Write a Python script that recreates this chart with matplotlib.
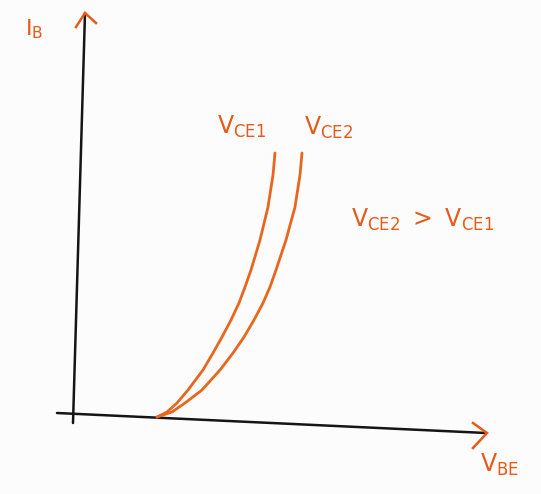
import matplotlib.pyplot as plt

# input characteristic sketch: I_B against V_BE for two collector voltages
ib = [-0.04, 0.01, 0.10, 0.23, 0.43, 0.60, 0.76, 0.93, 1.10, 1.26, 1.43, 1.73, 2.06, 2.38, 2.60]
vbe_vce1 = [0.84, 0.94, 1.04, 1.15, 1.30, 1.40, 1.49, 1.58, 1.66, 1.72, 1.78, 1.87, 1.95, 2.00, 2.02]
vbe_vce2 = [0.84, 0.99, 1.12, 1.29, 1.47, 1.60, 1.71, 1.81, 1.90, 1.97, 2.03, 2.13, 2.22, 2.27, 2.29]

# hand drawn axes (slightly skewed) and their chevron arrow heads
x_axis = ([-0.16, 4.13], [0.0, -0.20])
y_axis = ([0.0, 0.12], [-0.10, 4.00])
x_head = ([4.00, 4.14, 4.00], [-0.10, -0.20, -0.35])
y_head = ([0.03, 0.12, 0.23], [3.86, 4.00, 3.90])

orange = '#e65a1a'
ink = '#151515'

fig = plt.figure(figsize=(5.41, 4.94), dpi=100)
fig.patch.set_facecolor('#fdfcfc')
ax = fig.add_axes([0, 0, 1, 1])
ax.set_xlim(-0.73, 4.68)
ax.set_ylim(-0.81, 4.13)
ax.axis('off')

ax.plot(*x_axis, color=ink, lw=1.8, solid_capstyle='round')
ax.plot(*y_axis, color=ink, lw=1.8, solid_capstyle='round')
ax.plot(*x_head, color=orange, lw=1.8, solid_joinstyle='miter')
ax.plot(*y_head, color=orange, lw=1.8, solid_joinstyle='miter')

ax.plot(vbe_vce1, ib, color='#e8661e', lw=2.0, solid_capstyle='round', solid_joinstyle='round')
ax.plot(vbe_vce2, ib, color='#e8661e', lw=2.0, solid_capstyle='round', solid_joinstyle='round')

txt = dict(color=orange, ha='center', va='center')
ax.text(-0.39, 3.84, r'$\mathrm{I_B}$', fontsize=16, **txt)
ax.text(1.69, 2.86, r'$\mathrm{V_{CE1}}$', fontsize=17, **txt)
ax.text(2.56, 2.85, r'$\mathrm{V_{CE2}}$', fontsize=17, **txt)
ax.text(3.50, 1.93, r'$\mathrm{V_{CE2}\ >\ V_{CE1}}$', fontsize=17, **txt)
ax.text(4.27, -0.52, r'$\mathrm{V_{BE}}$', fontsize=17, **txt)

fig.savefig('out.png', dpi=100, facecolor=fig.get_facecolor())
